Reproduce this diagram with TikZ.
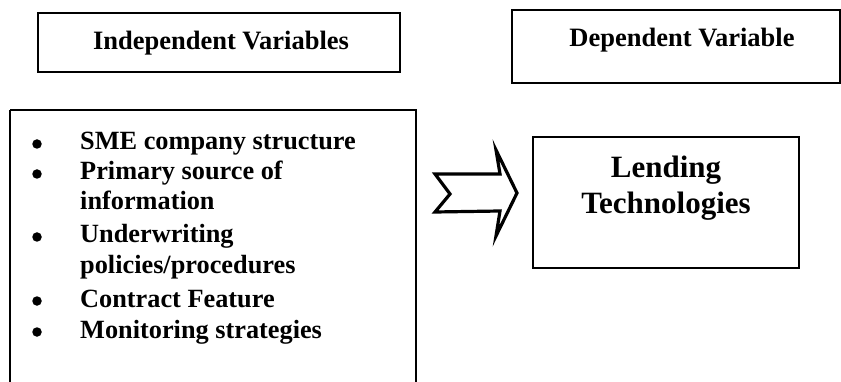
\documentclass[tikz,border=0pt]{standalone}
\usepackage{fontspec}
\setmainfont{Liberation Serif}
\begin{document}
\begin{tikzpicture}[x=1pt,y=-1pt,
  frame/.style={draw=black,line width=2pt},
  title/.style={font=\fontsize{26.5}{30}\selectfont\bfseries,anchor=base,inner sep=0pt},
  item/.style={font=\fontsize{26.3}{30}\selectfont\bfseries,anchor=base west,inner sep=0pt},
  bul/.style={circle,fill=black,inner sep=0pt,minimum size=9.5pt},
  big/.style={font=\fontsize{31}{36}\selectfont\bfseries,anchor=base,inner sep=0pt}]
\useasboundingbox (0,0) rectangle (841,382);
% header boxes
\draw[frame,line width=2.5pt] (38,13) rectangle (400,72);
\node[title] (iv) at (221,50) {Independent Variables};
\draw[frame] (512,10) rectangle (840,83);
\node[title] (dv) at (682,47) {Dependent Variable};
% list box
\draw[frame] (10,110) -- (10,383) (10,110) -- (416,110) -- (416,383);
\node[bul] (b1) at (37,144) {};
\node[item] (l1) at (80,150) {SME company structure};
\node[bul] (b2) at (37,174) {};
\node[item] (l2) at (80,180) {Primary source of};
\node[item] (l3) at (80,210) {information};
\node[bul] (b3) at (37,237) {};
\node[item] (l4) at (80,243) {Underwriting};
\node[item] (l5) at (80,273) {policies/procedures};
\node[bul] (b4) at (37,301) {};
\node[item] (l6) at (80,307) {Contract Feature};
\node[bul] (b5) at (37,332) {};
\node[item] (l7) at (80,338) {Monitoring strategies};
% arrow
\draw[line width=3.2pt,line join=miter] (435,174) -- (500,174) -- (496,150) -- (517,193) -- (496,236) -- (500,211) -- (435,212) -- (450,194) -- cycle;
% lending box
\draw[frame,line width=1.8pt] (533,137) rectangle (799,268);
\node[big] (lt1) at (666,178) {Lending};
\node[big] (lt2) at (666,214) {Technologies};
\end{tikzpicture}
\end{document}
